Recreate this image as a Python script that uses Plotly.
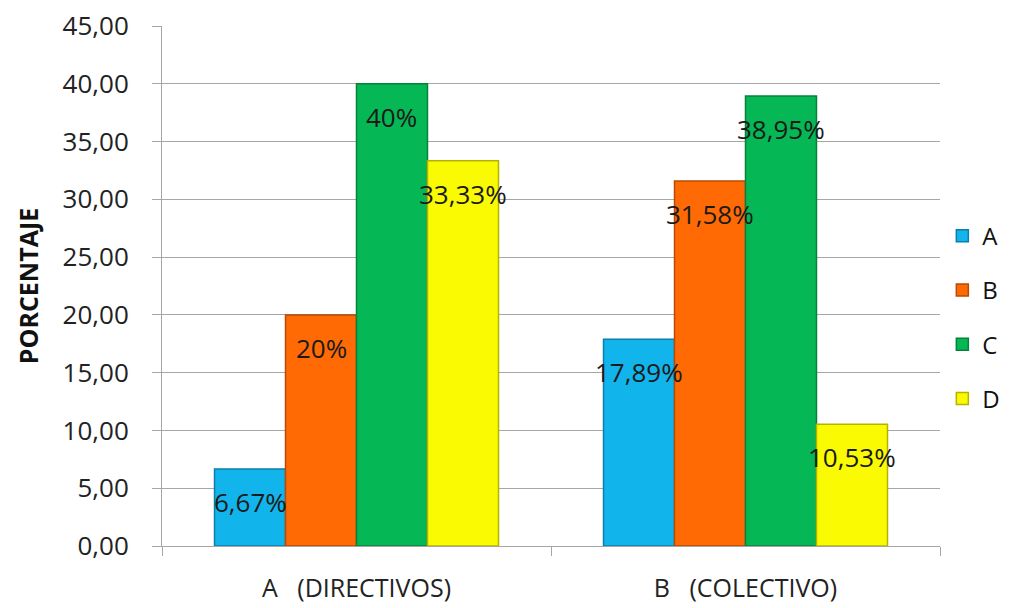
import plotly.graph_objects as go

# Grouped survey percentages by respondent group
groups = ["A\u00a0\u00a0\u00a0(DIRECTIVOS)", "B\u00a0\u00a0\u00a0(COLECTIVO)"]
series_names = ["A", "B", "C", "D"]
values = {
    "A": [6.67, 17.89],
    "B": [20.00, 31.58],
    "C": [40.00, 38.95],
    "D": [33.33, 10.53],
}
labels = {
    "A": ["6,67%", "17,89%"],
    "B": ["20%", "31,58%"],
    "C": ["40%", "38,95%"],
    "D": ["33,33%", "10,53%"],
}
y_ticks = [0, 5, 10, 15, 20, 25, 30, 35, 40, 45]

fill = {"A": "#12B4EC", "B": "#FF6A04", "C": "#06B755", "D": "#FAFA02"}
edge = {"A": "#0A7FAA", "B": "#B94A05", "C": "#06823B", "D": "#B5B300"}

W, H = 1034, 608
ML, MR, MT, MB = 162, 94, 26, 62
BARGAP = 0.27
plot_w = W - ML - MR
bar_w = plot_w / len(groups) * (1 - BARGAP) / len(series_names)

FONT = "Open Sans"

fig = go.Figure()
for i, name in enumerate(series_names):
    fig.add_trace(go.Bar(
        name=name,
        x=groups,
        y=values[name],
        legendgroup=name,
        marker=dict(color=fill[name], line=dict(color=edge[name], width=1.5)),
    ))
    for g, v, t in zip(groups, values[name], labels[name]):
        fig.add_annotation(
            x=g, y=v, text=t, showarrow=False,
            xref="x", yref="y", yanchor="middle",
            xshift=(i - 1.5) * bar_w, yshift=-33,
            font=dict(family=FONT, size=26, color="#1a1a1a"),
        )

fig.update_layout(
    width=W, height=H,
    margin=dict(l=ML, r=MR, t=MT, b=MB, autoexpand=False),
    paper_bgcolor="white", plot_bgcolor="white",
    barmode="group", bargap=BARGAP, bargroupgap=0,
    separators=", ",
    font=dict(family=FONT, color="#222222"),
    legend=dict(
        x=1.003, xanchor="left", y=0.44, yanchor="middle",
        font=dict(family=FONT, size=24, color="#111111"),
        tracegroupgap=20, traceorder="grouped",
        itemwidth=30, bgcolor="rgba(0,0,0,0)",
    ),
    showlegend=True,
)

fig.update_yaxes(
    range=[0, 45], tickvals=y_ticks, tickformat=".2f",
    showgrid=True, gridcolor="#A6A6A6", gridwidth=1,
    showline=True, linecolor="#A6A6A6", linewidth=1,
    ticks="outside", ticklen=9, tickcolor="#A6A6A6",
    ticklabelstandoff=18, automargin=False,
    tickfont=dict(family=FONT, size=26, color="#222222"),
    title=dict(text="<b>PORCENTAJE</b>", standoff=16,
               font=dict(family=FONT, size=25, color="#111111")),
    zeroline=False,
)
fig.update_xaxes(
    showline=True, linecolor="#A6A6A6", linewidth=1,
    ticks="outside", ticklen=9, tickcolor="#A6A6A6", tickson="boundaries",
    tickfont=dict(family=FONT, size=25, color="#222222"),
    ticklabelstandoff=20, automargin=False,
    showgrid=False,
)

fig.write_html("out.html")
